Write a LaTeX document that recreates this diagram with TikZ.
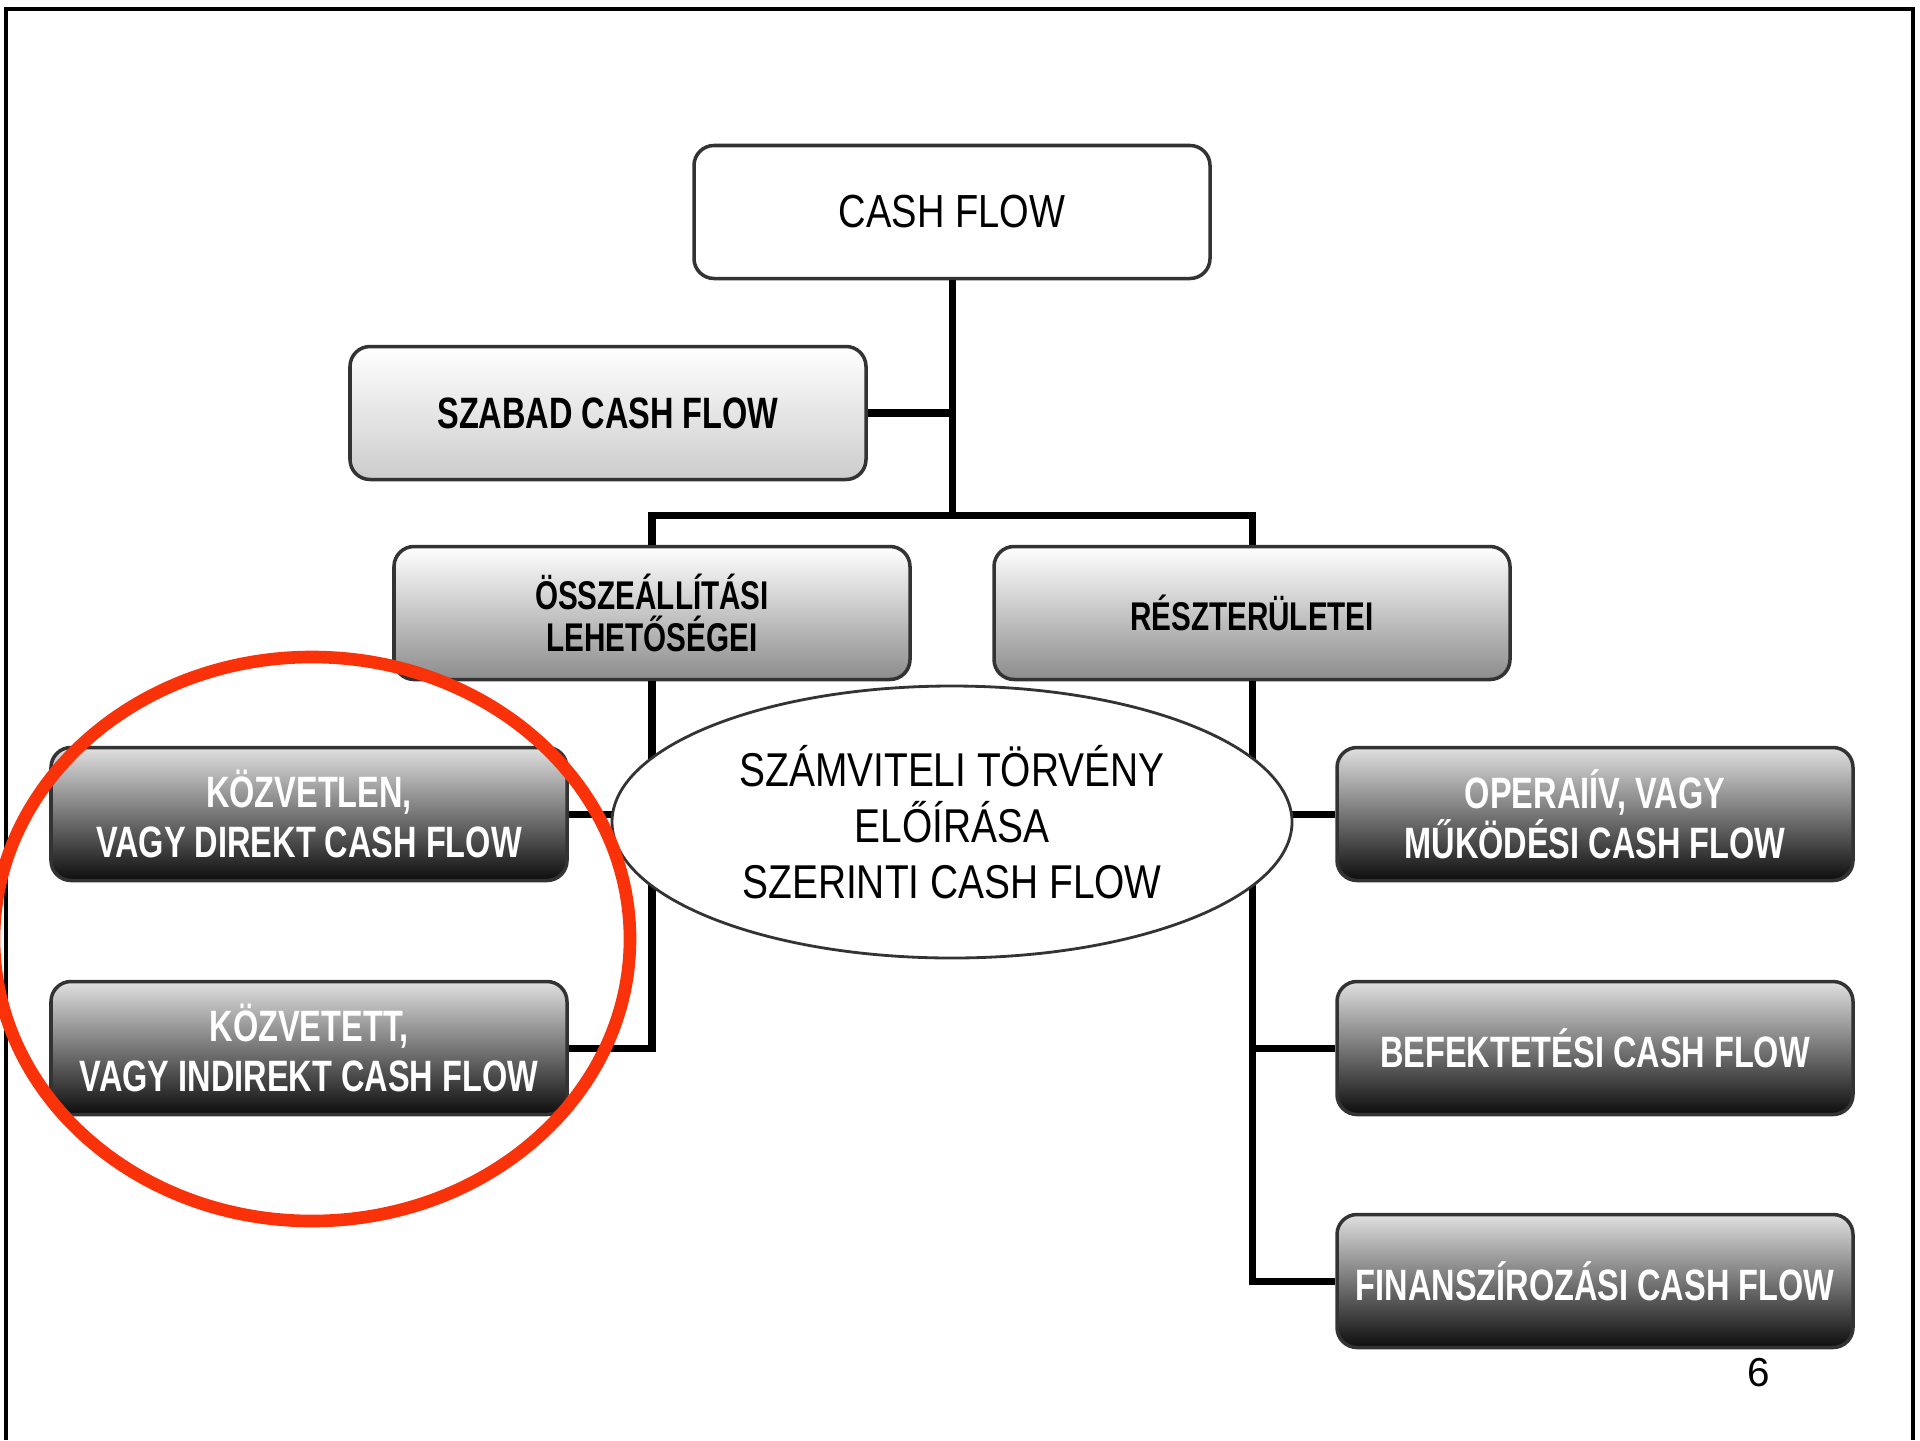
\documentclass[tikz,border=0pt]{standalone}
\usepackage{fontspec}
\setmainfont{Liberation Sans}
\newfontfamily\plainfont[FakeStretch=0.82]{Liberation Sans}
\newfontfamily\boxfont[FakeStretch=0.74]{Liberation Sans}
\usepackage{tikz}
\usetikzlibrary{calc, positioning, shapes.geometric}
\definecolor{ringred}{RGB}{250,50,10}

\begin{document}
\begin{tikzpicture}[node distance=2cm, on grid,
  box/.style={rectangle, rounded corners=0.2cm, draw=black!80, line width=1pt,
    minimum width=5.16cm, minimum height=1.33cm, inner sep=0pt, align=center},
  plainbox/.style={box, fill=white, font=\plainfont\fontsize{13.2}{16}\selectfont},
  lightbox/.style={box, top color=white, bottom color=black!45,
    font=\boxfont\bfseries\fontsize{12.5}{14.2}\selectfont},
  darkbox/.style={box, top color=black!12, middle color=black!55, bottom color=black!95,
    text=white, font=\boxfont\bfseries\fontsize{12.5}{14.2}\selectfont},
  conn/.style={line width=2pt}]
\useasboundingbox (0,0) rectangle (19.2,-14.4);
% frame %
\draw[line width=1pt] (0.06,-14.4) -- (0.06,-0.09) -- (19.13,-0.09) -- (19.13,-14.4);
% nodes %
\node[plainbox] (cf) at (9.52,-2.12) {CASH FLOW};
\node[lightbox, bottom color=black!20, below left=2.01cm and 3.44cm of cf] (szabad) {SZABAD CASH FLOW};
\node[lightbox, below left=4.01cm and 3cm of cf,
  font=\boxfont\bfseries\fontsize{11.4}{12}\selectfont] (ossz) {ÖSSZEÁLLÍTÁSI\\LEHETŐSÉGEI};
\node[lightbox, below right=4.01cm and 3cm of cf,
  font=\boxfont\bfseries\fontsize{11.4}{12}\selectfont] (resz) {RÉSZTERÜLETEI};
\node[darkbox, below left=2.01cm and 3.43cm of ossz] (kozv) {KÖZVETLEN,\\VAGY DIREKT CASH FLOW};
\node[darkbox, below=2.34cm of kozv] (kozvt) {KÖZVETETT,\\VAGY INDIREKT CASH FLOW};
\node[darkbox, below right=2.01cm and 3.43cm of resz] (oper) {OPERAIÍV, VAGY\\MŰKÖDÉSI CASH FLOW};
\node[darkbox, below=2.34cm of oper] (befekt) {BEFEKTETÉSI CASH FLOW};
\node[darkbox, below=2.33cm of befekt] (finan) {FINANSZÍROZÁSI CASH FLOW};
\coordinate (split) at ($(ossz.north)+(0,0.29)$);
% edges %
\draw[conn] (cf.south) -- (cf |- split);
\draw[conn] (szabad.east) -- (cf |- szabad);
\draw[conn] (ossz.north) |- (cf |- split) -| (resz.north);
\draw[conn] (ossz.south) |- (kozvt.east);
\draw[conn] (kozv.east) -- (ossz |- kozv);
\draw[conn] (resz.south) |- (finan.west);
\draw[conn] (oper.west) -- (resz |- oper);
\draw[conn] (befekt.west) -- (resz |- befekt);
% law %
\node[ellipse, draw=black!80, line width=0.8pt, fill=white, minimum width=6.8cm, minimum height=2.72cm,
  inner sep=0pt, align=center, font=\plainfont\fontsize{13.5}{16}\selectfont,
  below=6.1cm of cf] (szamv) {SZÁMVITELI TÖRVÉNY\\ELŐÍRÁSA\\SZERINTI CASH FLOW};
% highlight %
\draw[ringred, line width=3.6pt] ($(kozv)!0.5!(kozvt)+(0.03,-0.08)$) ellipse [x radius=3.18cm, y radius=2.82cm];
\node[font=\fontsize{11.5}{13}\selectfont] (page) at (17.59,-13.73) {6};
\end{tikzpicture}
\end{document}
